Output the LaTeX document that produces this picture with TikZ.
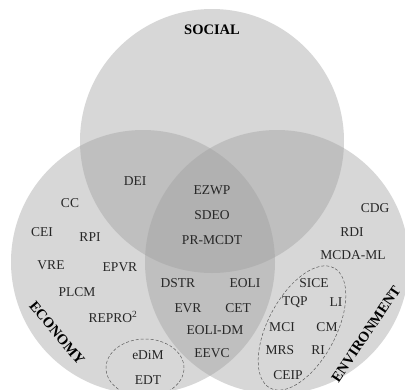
\documentclass[tikz,border=0pt]{standalone}
\usepackage{fontspec}
\setmainfont{Liberation Serif}
\definecolor{venngray}{RGB}{160,160,160}
\begin{document}
\begin{tikzpicture}[x=1pt,y=-1pt,
			setdisc/.style={fill=venngray, fill opacity=0.42},
			tag/.style={text=black!85, font=\fontsize{13.5}{13.5}\selectfont},
			setname/.style={text=black, font=\bfseries\fontsize{14.5}{14.5}\selectfont},
			groupring/.style={draw=black!65, densely dashed, line width=0.5pt},
			]

\useasboundingbox (0,0) rectangle (405,389);
\clip (0,0) rectangle (405,389);
\fill[white] (0,0) rectangle (405,389);

% the three sets
\fill[setdisc] (212,141) circle [radius=132pt];
\fill[setdisc] (143,262) circle [radius=132pt];
\fill[setdisc] (277,262) circle [radius=132pt];

% groups
\draw[groupring] (145,368) ellipse [x radius=39pt, y radius=29pt];
\draw[groupring, rotate around={62:(302,328)}] (302,328) ellipse [x radius=68pt, y radius=34pt];

% set names
\node[setname] (social) at (212,30) {SOCIAL};
\node[setname, rotate=-50] (economy) at (57,333) {ECONOMY};
\node[setname, rotate=56] (environment) at (366,334) {ENVIRONMENT};

% social & economy
\node[tag] (dei) at (135,181) {DEI};

% all three
\node[tag] (ezwp) at (212,190) {EZWP};
\node[tag] (sdeo) at (212,215) {SDEO};
\node[tag] (prmcdt) at (212,240) {PR-MCDT};

% economy
\node[tag] (cc) at (70,203) {CC};
\node[tag] (cei) at (42,232) {CEI};
\node[tag] (rpi) at (90,237) {RPI};
\node[tag] (vre) at (51,265) {VRE};
\node[tag] (epvr) at (120,267) {EPVR};
\node[tag] (plcm) at (77,292) {PLCM};
\node[tag] (repro) at (113,317) {REPRO\textsuperscript{2}};
\node[tag] (edim) at (148,355) {eDiM};
\node[tag] (edt) at (148,380) {EDT};

% economy & environment
\node[tag] (dstr) at (178,283) {DSTR};
\node[tag] (eoli) at (245,283) {EOLI};
\node[tag] (evr) at (188,308) {EVR};
\node[tag] (cet) at (238,308) {CET};
\node[tag] (eolidm) at (215,330) {EOLI-DM};
\node[tag] (eevc) at (212,353) {EEVC};

% environment
\node[tag] (cdg) at (375,208) {CDG};
\node[tag] (rdi) at (352,232) {RDI};
\node[tag] (mcdaml) at (353,255) {MCDA-ML};
\node[tag] (sice) at (314,283) {SICE};
\node[tag] (tqp) at (295,302) {TQP};
\node[tag] (li) at (336,302) {LI};
\node[tag] (mci) at (282,327) {MCI};
\node[tag] (cm) at (327,327) {CM};
\node[tag] (mrs) at (280,350) {MRS};
\node[tag] (ri) at (318,350) {RI};
\node[tag] (ceip) at (288,375) {CEIP};

\end{tikzpicture}
\end{document}
